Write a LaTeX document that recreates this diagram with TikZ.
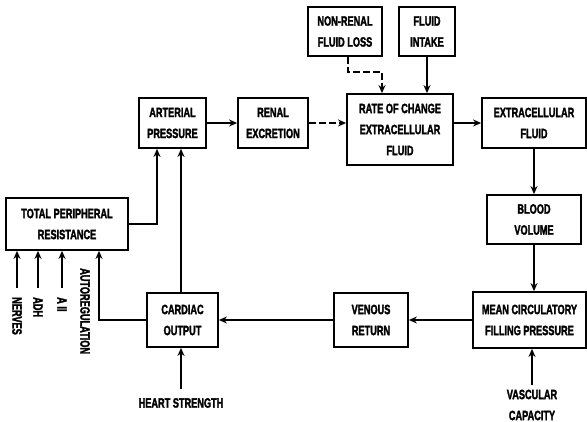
\documentclass[tikz,border=0pt]{standalone}
\usepackage{fontspec}
\newfontfamily\dfont{Liberation Sans Bold}[FakeStretch=0.68,FakeBold=2]
\usetikzlibrary{arrows.meta,calc}
\begin{document}
\begin{tikzpicture}[x=1pt,y=-1pt,
  every node/.style={font=\dfont\fontsize{13.5}{21}\selectfont},
  blk/.style={draw,line width=1.8pt,align=center,inner sep=1pt},
  lbl/.style={inner sep=0pt,align=center},
  conn/.style={line width=1.8pt,-{Stealth[length=8pt,width=7pt]}},
  dsh/.style={conn,dash pattern=on 7pt off 3pt}]
\useasboundingbox (0,0) rectangle (587,422);
\node[blk,minimum width=122pt,minimum height=52pt] (tpr) at (67,224) {TOTAL PERIPHERAL\\RESISTANCE};
\node[blk,minimum width=67pt,minimum height=50pt] (ap) at (172.5,123) {ARTERIAL\\PRESSURE};
\node[blk,minimum width=70pt,minimum height=50pt] (re) at (273,123) {RENAL\\EXCRETION};
\node[blk,minimum width=106pt,minimum height=71pt] (roc) at (400,129.5) {RATE OF CHANGE\\EXTRACELLULAR\\FLUID};
\node[blk,minimum width=104pt,minimum height=50pt] (ecf) at (534,123) {EXTRACELLULAR\\FLUID};
\node[blk,minimum width=74pt,minimum height=49pt] (nrl) at (345,31.5) {NON-RENAL\\FLUID LOSS};
\node[blk,minimum width=56pt,minimum height=49pt] (fi) at (427,31.5) {FLUID\\INTAKE};
\node[blk,minimum width=94pt,minimum height=49pt] (bv) at (534,219.5) {BLOOD\\VOLUME};
\node[blk,minimum width=113pt,minimum height=56pt] (mcfp) at (529.5,320) {MEAN CIRCULATORY\\FILLING PRESSURE};
\node[blk,minimum width=74pt,minimum height=54pt] (vr) at (371,320) {VENOUS\\RETURN};
\node[blk,minimum width=71pt,minimum height=54pt] (co) at (182.5,320) {CARDIAC\\OUTPUT};
% rotated input labels
\node[lbl,rotate=-90,anchor=west] (nerv) at (17,297) {NERVES};
\node[lbl,rotate=-90,anchor=west] (adh) at (38,297) {ADH};
\node[lbl,rotate=-90,anchor=west] (aii) at (62,297) {A II};
\node[lbl,rotate=-90,anchor=west] (auto) at (85,268) {AUTOREGULATION};
\node[lbl] (hs) at (181,403) {HEART STRENGTH};
\node[lbl] (vc) at (532,405) {VASCULAR\\CAPACITY};
% connectors
\draw[conn] (ap.east) -- (re.west);
\draw[dsh] (re.east) -- (re.east -| roc.west);
\draw[conn] (ecf.west -| roc.east) -- (ecf.west);
\draw[dsh] ($(nrl.south)+(3,0)$) -- ++(0,15) -| ($(roc.north)+(-18,0)$);
\draw[conn] (fi.south) -- (fi.south |- roc.north);
\draw[conn] (ecf.south) -- (ecf.south |- bv.north);
\draw[conn] (bv.south) -- (bv.south |- mcfp.north);
\draw[conn] (mcfp.west) -- (mcfp.west -| vr.east);
\draw[conn] (vr.west) -- (vr.west -| co.east);
\draw[conn] ($(co.north)+(-1.5,0)$) -- ($(co.north |- ap.south)+(-1.5,0)$);
\draw[conn] (tpr.east) -| ($(ap.south)+(-15.5,0)$);
\draw[conn] (co.west) -| (99,0 |- tpr.south);
\draw[conn] ($(nerv.west)+(0,-9)$) -- (nerv.west |- tpr.south);
\draw[conn] ($(adh.west)+(0,-9)$) -- (adh.west |- tpr.south);
\draw[conn] ($(aii.west)+(0,-9)$) -- (aii.west |- tpr.south);
\draw[conn] ($(hs.north)+(0,-9)$) -- (hs.north |- co.south);
\draw[conn] ($(vc.north)+(0,-5)$) -- (vc.north |- mcfp.south);
\end{tikzpicture}
\end{document}
